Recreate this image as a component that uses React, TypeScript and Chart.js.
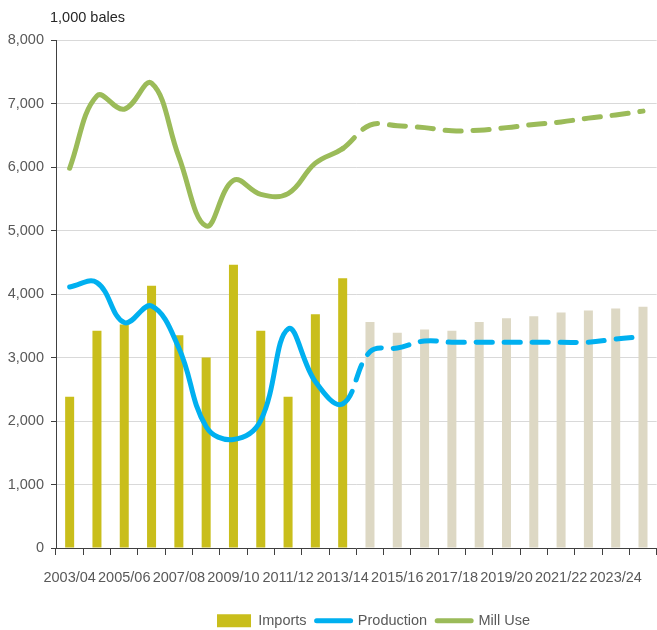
import React, { useEffect, useRef } from 'react';
import { Chart, registerables } from 'chart.js';

Chart.register(...registerables);

const categories = [
  '2003/04', '2004/05', '2005/06', '2006/07', '2007/08', '2008/09', '2009/10', '2010/11',
  '2011/12', '2012/13', '2013/14', '2014/15', '2015/16', '2016/17', '2017/18', '2018/19',
  '2019/20', '2020/21', '2021/22', '2022/23', '2023/24', '2024/25',
];

const imports = [
  2380, 3420, 3520, 4130, 3350, 3000, 4460, 3420, 2380, 3680, 4250,
  3560, 3390, 3440, 3420, 3560, 3620, 3650, 3710, 3740, 3770, 3800,
];

const production = [
  4110, 4180, 3550, 3810, 3150, 1910, 1710, 2010, 3450, 2620, 2270,
  3090, 3150, 3260, 3240, 3240, 3240, 3240, 3240, 3240, 3290, 3330,
];

const millUse = [
  5980, 7120, 6910, 7320, 6160, 5070, 5790, 5570, 5580, 6060, 6290,
  6660, 6650, 6620, 6570, 6580, 6620, 6670, 6710, 6770, 6820, 6880,
];

const lastActualIndex = 10;
const unitLabel = '1,000 bales';
const yMin = 0;
const yMax = 8000;
const yStep = 1000;

const FONT = "'Liberation Sans', Arial, sans-serif";
const FS = 14.5;
const ACTUAL = '#C9BE1B';
const PROJECTED = '#DDD8C4';
const BLUE = '#00B0F0';
const GREEN = '#9BBB59';
const TEXT = '#595959';
const AXIS = '#404040';

const unitTitle = {
  id: 'unitTitle',
  afterDraw(chart: any) {
    const { ctx, chartArea } = chart;
    ctx.save();
    ctx.font = `${FS}px ${FONT}`;
    ctx.fillStyle = '#262626';
    ctx.textAlign = 'left';
    ctx.textBaseline = 'middle';
    ctx.fillText(unitLabel, chartArea.left - 6, chartArea.top - 22);
    ctx.restore();
  },
};

const legendShift = {
  id: 'legendShift',
  afterLayout(chart: any) {
    const l = chart.legend;
    if (l) {
      l.left += 45;
      l.right += 45;
      l.top += 8;
      l.bottom += 8;
    }
  },
};

export default function App() {
  const canvasRef = useRef<HTMLCanvasElement | null>(null);

  useEffect(() => {
    document.body.style.margin = '0';
    const canvas = canvasRef.current;
    if (!canvas) return;
    const dashFrom = (ctx: any) => (ctx.p0DataIndex >= lastActualIndex ? [16, 12] : undefined);
    const chart = new Chart(canvas, {
      type: 'bar',
      data: {
        labels: categories,
        datasets: [
          {
            type: 'bar',
            label: 'Imports',
            data: imports,
            backgroundColor: categories.map((_, i) => (i <= lastActualIndex ? ACTUAL : PROJECTED)),
            barPercentage: 0.33,
            categoryPercentage: 1,
            order: 3,
          },
          {
            type: 'line',
            label: 'Production',
            data: production,
            borderColor: BLUE,
            backgroundColor: BLUE,
            borderWidth: 5,
            tension: 0.4,
            pointRadius: 0,
            borderCapStyle: 'round',
            borderJoinStyle: 'round',
            segment: { borderDash: dashFrom },
            order: 1,
          } as any,
          {
            type: 'line',
            label: 'Mill Use',
            data: millUse,
            borderColor: GREEN,
            backgroundColor: GREEN,
            borderWidth: 5,
            tension: 0.4,
            pointRadius: 0,
            borderCapStyle: 'round',
            borderJoinStyle: 'round',
            segment: { borderDash: dashFrom },
            order: 2,
          } as any,
        ],
      },
      options: {
        responsive: false,
        animation: false,
        devicePixelRatio: 1,
        events: [],
        layout: { padding: { top: 40, left: 0, right: 0, bottom: 0 } },
        plugins: {
          tooltip: { enabled: false },
          title: { display: false },
          legend: {
            display: true,
            position: 'bottom',
            labels: {
              usePointStyle: true,
              pointStyleWidth: 34,
              boxHeight: 13,
              padding: 10,
              color: TEXT,
              font: { family: FONT, size: FS },
              generateLabels: (chart: any) =>
                chart.data.datasets.map((ds: any, i: number) => ({
                  text: ds.label,
                  datasetIndex: i,
                  fillStyle: i === 0 ? ACTUAL : ds.borderColor,
                  strokeStyle: i === 0 ? ACTUAL : ds.borderColor,
                  lineWidth: i === 0 ? 0 : 5,
                  lineCap: 'round',
                  pointStyle: i === 0 ? 'rect' : 'line',
                  hidden: false,
                  fontColor: TEXT,
                })),
            },
          },
        },
        scales: {
          x: {
            afterFit: (scale: any) => {
              scale.height = 47.5;
            },
            grid: {
              display: true,
              drawOnChartArea: false,
              drawTicks: true,
              tickLength: 7,
              tickColor: AXIS,
              offset: true,
            },
            border: { display: true, color: AXIS, width: 1 },
            ticks: {
              autoSkip: false,
              maxRotation: 0,
              minRotation: 0,
              color: TEXT,
              padding: 14,
              font: { family: FONT, size: FS },
              callback: (_v: any, i: number) => (i % 2 === 0 ? categories[i] : ''),
            },
          },
          y: {
            min: yMin,
            max: yMax,
            afterFit: (scale: any) => {
              scale.width = 56;
            },
            grid: {
              color: '#D9D9D9',
              lineWidth: 1,
              drawTicks: true,
              tickLength: 5,
              tickColor: AXIS,
            },
            border: { display: true, color: AXIS, width: 1 },
            ticks: {
              stepSize: yStep,
              color: TEXT,
              padding: 7,
              font: { family: FONT, size: FS },
              callback: (v: any) => Number(v).toLocaleString('en-US'),
            },
          },
        },
      },
      plugins: [unitTitle, legendShift],
    } as any);
    return () => chart.destroy();
  }, []);

  return (
    <div style={{ width: 657, height: 630 }}>
      <canvas ref={canvasRef} width={657} height={630} style={{ display: 'block' }} />
    </div>
  );
}
